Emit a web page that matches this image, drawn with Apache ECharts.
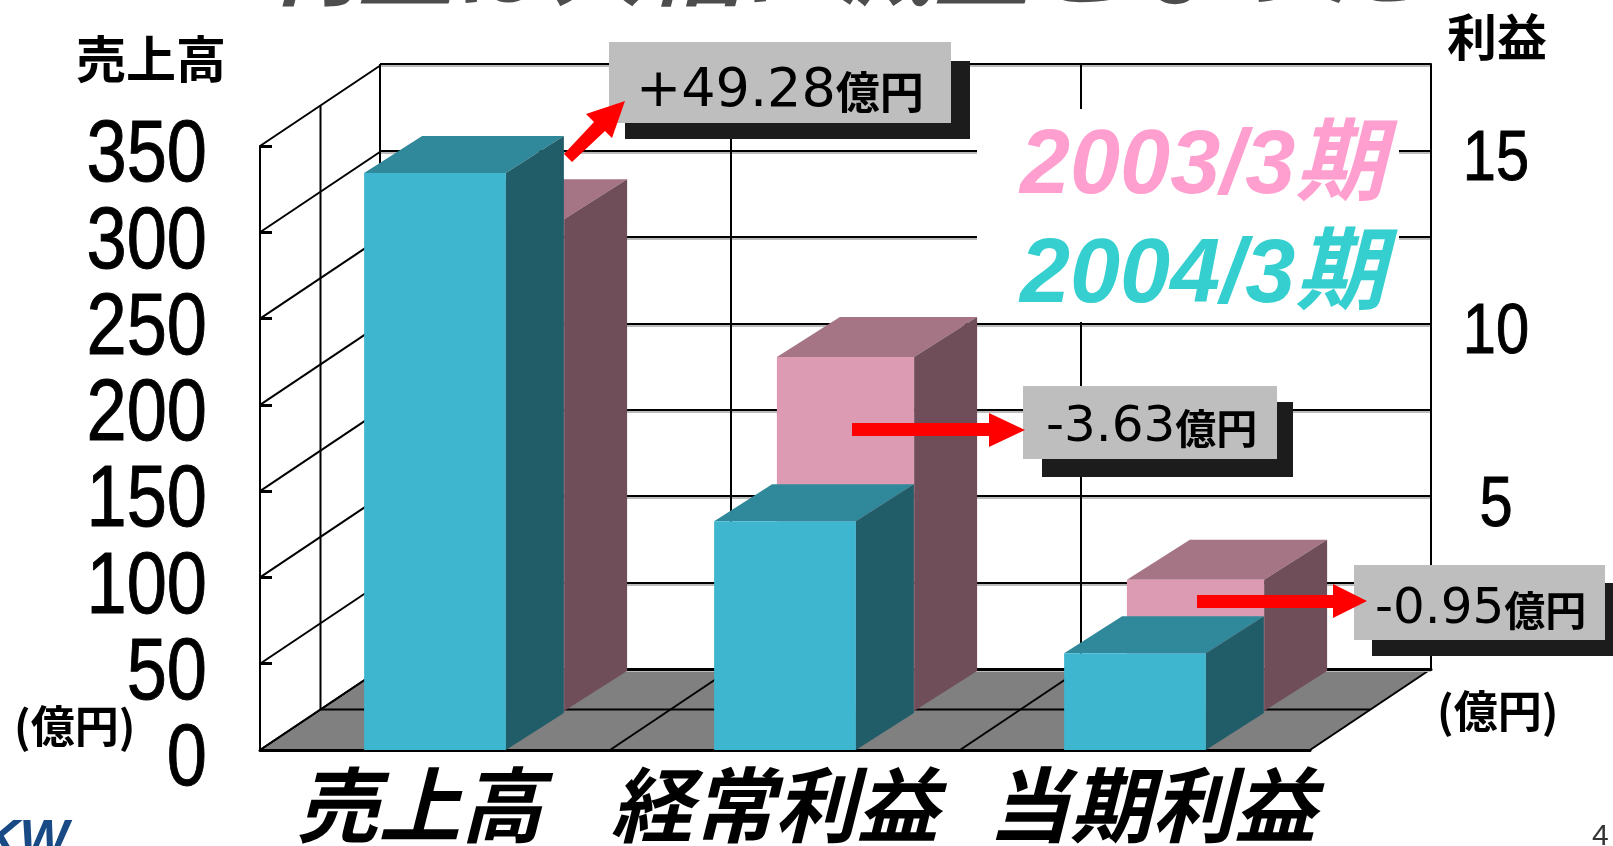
<!DOCTYPE html>
<html>
<head>
<meta charset="utf-8">
<title>売上高・利益</title>
<style>
    html, body { margin: 0; padding: 0; background: #fff; }
    #chart1 { width: 1613px; height: 846px; }
</style>
<script src="https://cdn.jsdelivr.net/npm/echarts@6/dist/echarts.min.js"></script>
</head>
<body>
<div id="chart1"></div>
<script>
// 数据
var categories = ['売上高', '経常利益', '当期利益'];
var salesTicks = [0, 50, 100, 150, 200, 250, 300, 350];
var profitTicks = [5, 10, 15];
var sales2003 = [285];
var sales2004 = [334.3];
var profit2003 = [null, 10.26, 3.8];
var profit2004 = [null, 6.63, 2.8];
var name2003 = '2003/3期';
var name2004 = '2004/3期';

// 奥行き(px)
var DEPTH_X = 121, DEPTH_Y = 81;

var CJK = '"Noto Sans CJK JP"';
var LATIN = '"Liberation Sans"';

function toItems(list) {
    var out = [];
    for (var i = 0; i < list.length; i++) {
        if (list[i] !== null) out.push([i, list[i]]);
    }
    return out;
}

function line(x1, y1, x2, y2, w) {
    return {
        type: 'line',
        shape: {x1: x1, y1: y1, x2: x2, y2: y2},
        style: {stroke: '#000', lineWidth: w || 2}
    };
}

function poly(points, color) {
    return {type: 'polygon', shape: {points: points}, style: {fill: color}};
}

// 立体棒
function barRender(look) {
    return function (params, api) {
        var top0 = api.coord([api.value(0), api.value(1)]);
        var base = api.coord([api.value(0), 0]);
        var w = api.size([1, 0])[0] * look.ratio;
        var l = top0[0] + look.planeX - w / 2, r = l + w;
        var t = top0[1] + look.planeY, b = base[1] + look.planeY;
        return {
            type: 'group',
            children: [
                poly([[l, t], [r, t], [r + look.dx, t - look.dy], [l + look.dx, t - look.dy]], look.colors[1]),
                poly([[r, t], [r + look.dx, t - look.dy], [r + look.dx, b - look.dy], [r, b]], look.colors[2]),
                poly([[l, t], [r, t], [r, b], [l, b]], look.colors[0])
            ]
        };
    };
}

function barSeries(name, list, axisIndex, z, look) {
    return {
        type: 'custom',
        name: name,
        xAxisIndex: 0,
        yAxisIndex: axisIndex,
        z: z,
        silent: true,
        itemStyle: {color: look.colors[0]},
        renderItem: barRender(look),
        data: toItems(list)
    };
}

var pink = {planeX: 60.5, planeY: -39, ratio: 0.392, dx: 63, dy: 40, colors: ['#dd9ab3', '#a67585', '#6f4e59']};
var cyan = {planeX: 0, planeY: 0, ratio: 0.405, dx: 58, dy: 37, colors: ['#3fb6cf', '#30899a', '#215d68']};

// 目盛の数字(細長い字形にするため横を縮める)
function tickSeries(list, xIndex, yIndex, fontSize, scale, align, shiftX, shiftY, shadow) {
    return {
        type: 'custom',
        xAxisIndex: xIndex,
        yAxisIndex: yIndex,
        z: 5,
        silent: true,
        data: list.map(function (v) { return [0, v]; }),
        renderItem: function (params, api) {
            var g = params.coordSys;
            var value = api.value(1);
            var style = {
                text: String(value),
                font: fontSize + 'px ' + LATIN,
                fill: '#000',
                stroke: '#000',
                lineWidth: 1,
                align: align,
                verticalAlign: 'middle'
            };
            if (shadow) {
                style.textShadowColor = '#bbb';
                style.textShadowBlur = 0;
                style.textShadowOffsetX = 3;
                style.textShadowOffsetY = 3;
            }
            return {
                type: 'text',
                x: g.x + shiftX,
                y: api.coord([0, value])[1] + shiftY,
                scaleX: scale,
                style: style
            };
        }
    };
}

// 注釈の箱
function callout(box, shadow, text, num, cjk, tx, ty) {
    return [
        {type: 'rect', z: 10, shape: {x: shadow[0], y: shadow[1], width: shadow[2], height: shadow[3]}, style: {fill: '#1c1c1c'}},
        {type: 'rect', z: 11, shape: {x: box[0], y: box[1], width: box[2], height: box[3]}, style: {fill: '#bebebe'}},
        {
            type: 'text', z: 12, x: tx, y: ty,
            style: {
                text: text,
                verticalAlign: 'middle',
                rich: {
                    n: {fontFamily: '"DejaVu Sans"', fontSize: num, fill: '#000', fontWeight: 'normal'},
                    c: {fontFamily: CJK, fontSize: cjk, fill: '#000', fontWeight: 'bold'}
                }
            }
        }
    ];
}

function arrow(points) {
    return {type: 'polygon', z: 13, shape: {points: points}, style: {fill: '#ff0000'}};
}

function plainText(text, x, y, font, fill) {
    return {type: 'text', x: x, y: y, z: 9, style: {text: text, font: font, fill: fill}};
}

var graphics = []
    .concat(callout([609, 42, 342, 81], [625, 61, 345, 78], '{n|+49.28}{c|億円}', 54, 44, 636, 92))
    .concat(callout([1023, 386, 254, 73], [1042, 402, 251, 75], '{n|-3.63}{c|億円}', 50, 41, 1046, 428))
    .concat(callout([1354, 565, 251, 75], [1372, 583, 241, 73], '{n|-0.95}{c|億円}', 50, 41, 1375, 610))
    .concat([
        // 凡例の下地
        {type: 'rect', z: 3, shape: {x: 977, y: 109, width: 422, height: 213}, style: {fill: '#fff'}},
        arrow([[564, 154], [594, 122], [586, 114], [625, 101], [612, 138], [605, 131], [572, 162]]),
        arrow([[852, 423], [989, 423], [989, 413], [1025, 430], [989, 447], [989, 436], [852, 436]]),
        arrow([[1197, 595], [1333, 595], [1333, 584], [1367, 601], [1333, 618], [1333, 608], [1197, 608]]),
        plainText('(億円)', 14, 704, 'bold 44px ' + CJK, '#000'),
        plainText('(億円)', 1437, 689, 'bold 44px ' + CJK, '#000'),
        plainText('4', 1592, 822, '30px ' + LATIN, '#333'),
        plainText('KW', -18, 816, 'italic bold 52px ' + LATIN, '#1a4a85')
    ]);

var catStyle = {
    fontFamily: CJK,
    fontSize: 82,
    fontStyle: 'italic',
    fontWeight: 'bold',
    color: '#000',
    textShadowColor: '#bbb',
    textShadowBlur: 0,
    textShadowOffsetX: 4,
    textShadowOffsetY: 4
};

function richCat(padding) {
    var s = {padding: padding};
    for (var k in catStyle) s[k] = catStyle[k];
    return s;
}

var option1 = {
    backgroundColor: '#fff',
    animation: false,
    title: {
        text: '利益は大幅に減益となった',
        left: 262,
        top: -86,
        padding: 0,
        textStyle: {
            fontFamily: CJK,
            fontSize: 96,
            fontStyle: 'italic',
            fontWeight: 'bold',
            color: '#4d4d4d',
            textShadowColor: '#bbb',
            textShadowBlur: 0,
            textShadowOffsetX: 3,
            textShadowOffsetY: 3
        }
    },
    legend: {
        left: 977,
        top: 114,
        orient: 'vertical',
        padding: [0, 0, 0, 38],
        itemWidth: 0,
        itemHeight: 0,
        itemGap: 0,
        icon: 'none',
        selectedMode: false,
        data: [
            {name: name2003, textStyle: {color: '#ff9fcf'}},
            {name: name2004, textStyle: {color: '#36cfd0'}}
        ],
        textStyle: {
            fontFamily: LATIN + ', ' + CJK,
            fontSize: 90,
            lineHeight: 109,
            fontStyle: 'italic',
            fontWeight: 'bold',
            textShadowColor: '#bbb',
            textShadowBlur: 0,
            textShadowOffsetX: 3,
            textShadowOffsetY: 3
        }
    },
    // 0: 手前の面  1: 奥の壁
    grid: [
        {left: 260, top: 146, width: 1050, height: 604, outerBoundsMode: 'none'},
        {left: 380, top: 64, width: 1051, height: 605, outerBoundsMode: 'none'}
    ],
    xAxis: [
        {
            type: 'category',
            gridIndex: 0,
            data: categories,
            z: 2,
            axisTick: {show: false},
            axisLine: {lineStyle: {color: '#000', width: 3}},
            axisLabel: {
                margin: 14,
                interval: 0,
                formatter: function (value, index) {
                    return '{c' + index + '|' + value + '}';
                },
                rich: {
                    c0: richCat([0, 31, 0, 0]),
                    c1: richCat([0, 21, 0, 0]),
                    c2: richCat([0, 0, 0, 34])
                }
            }
        },
        {
            type: 'category',
            gridIndex: 1,
            data: categories,
            z: 2,
            axisTick: {show: false},
            axisLabel: {show: false},
            axisLine: {lineStyle: {color: '#000', width: 3}},
            splitLine: {show: true, lineStyle: {color: '#000', width: 2}}
        }
    ],
    yAxis: [
        {
            type: 'value',
            gridIndex: 0,
            min: 0,
            max: 350,
            interval: 50,
            z: 2,
            name: '売上高',
            nameLocation: 'end',
            nameGap: 62,
            nameTextStyle: {
                align: 'right',
                padding: [0, 34, 0, 0],
                fontFamily: CJK,
                fontSize: 50,
                fontWeight: 'bold',
                color: '#000'
            },
            axisLine: {show: true, lineStyle: {color: '#000', width: 2}},
            axisTick: {show: true, inside: true, length: 12, lineStyle: {color: '#000', width: 3}},
            splitLine: {show: false},
            axisLabel: {show: false}
        },
        // 利益は売上高の 1/20 の目盛
        {
            type: 'value',
            gridIndex: 0,
            min: 0,
            max: 17.5,
            interval: 5,
            show: false
        },
        {
            type: 'value',
            gridIndex: 1,
            position: 'right',
            min: 0,
            max: 17.5,
            interval: 2.5,
            z: 2,
            name: '利益',
            nameLocation: 'end',
            nameGap: 2,
            nameTextStyle: {
                align: 'center',
                padding: [0, 0, 0, 132],
                fontFamily: CJK,
                fontSize: 50,
                fontWeight: 'bold',
                color: '#000'
            },
            axisLine: {show: true, lineStyle: {color: '#000', width: 2}},
            axisTick: {show: false},
            axisLabel: {show: false},
            splitLine: {
                show: true,
                lineStyle: {color: '#000', width: 2, shadowColor: '#bbb', shadowBlur: 0, shadowOffsetY: 2}
            }
        }
    ],
    graphic: graphics,
    series: [
        // 床
        {
            type: 'custom',
            xAxisIndex: 0,
            yAxisIndex: 0,
            z: 1,
            silent: true,
            data: [[0, 0]],
            renderItem: function (params, api) {
                var g = params.coordSys;
                var bottom = g.y + g.height;
                var right = g.x + g.width;
                var band = g.width / categories.length;
                var children = [
                    poly([
                        [g.x, bottom], [right, bottom],
                        [right + DEPTH_X, bottom - DEPTH_Y], [g.x + DEPTH_X, bottom - DEPTH_Y]
                    ], '#808080'),
                    line(g.x + DEPTH_X / 2, bottom - DEPTH_Y / 2, right + DEPTH_X / 2, bottom - DEPTH_Y / 2, 2),
                    line(g.x + DEPTH_X / 2, g.y - DEPTH_Y / 2, g.x + DEPTH_X / 2, bottom - DEPTH_Y / 2, 2),
                    line(g.x + DEPTH_X, g.y - DEPTH_Y, right + DEPTH_X, g.y - DEPTH_Y, 3)
                ];
                for (var i = 0; i <= categories.length; i++) {
                    children.push(line(g.x + band * i, bottom, g.x + band * i + DEPTH_X, bottom - DEPTH_Y, 2));
                }
                return {type: 'group', children: children};
            }
        },
        // 左の壁
        {
            type: 'custom',
            xAxisIndex: 0,
            yAxisIndex: 0,
            z: 1,
            silent: true,
            data: salesTicks.map(function (v) { return [0, v]; }),
            renderItem: function (params, api) {
                var g = params.coordSys;
                var y = api.coord([0, api.value(1)])[1];
                return line(g.x, y, g.x + DEPTH_X, y - DEPTH_Y, 2);
            }
        },
        tickSeries(salesTicks, 0, 0, 88, 0.82, 'right', -53, 11, false),
        tickSeries(profitTicks, 1, 2, 71, 0.84, 'center', 1116, 10, true),
        barSeries(name2003, sales2003, 0, 3, pink),
        barSeries(name2003, profit2003, 1, 3, pink),
        barSeries(name2004, sales2004, 0, 4, cyan),
        barSeries(name2004, profit2004, 1, 4, cyan)
    ]
};

var chart1 = echarts.init(document.getElementById('chart1'));
chart1.setOption(option1);
</script>
</body>
</html>
